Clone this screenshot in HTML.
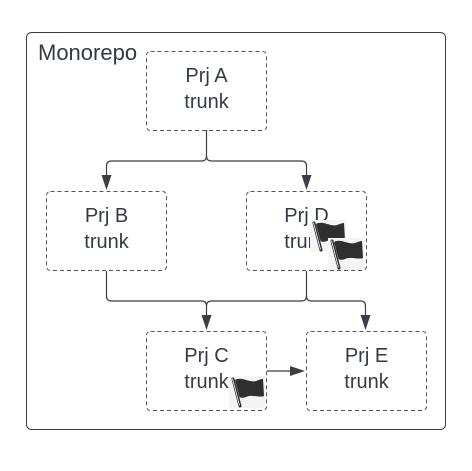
<!DOCTYPE html>
<html><head><style>
html,body{margin:0;padding:0;background:#fff;width:472px;height:471px;overflow:hidden}
</style></head><body>
<svg width="472" height="471" viewBox="0 0 472 471" xmlns="http://www.w3.org/2000/svg" font-family="Liberation Sans, sans-serif">
<defs>
<g id="flag">
<rect x="-1" y="-1" width="36" height="32" fill="#f4f4f4"/>
<path d="M3 2 L10 29" stroke="#2b2b2b" stroke-width="3" stroke-linecap="round"/>
<path d="M2.5 1.5 L9.5 28.5" stroke="#fff" stroke-width="0.8"/>
<path d="M5 3 C12 -1 19 6 26 4 C29 3 31 2 33 2 L34 19 C29 21 22 17 16 20 C13 21 11 21 9.5 20 Z" fill="#2f2f2f"/>
</g>
</defs>
<rect x="26.5" y="32.5" width="419" height="397" rx="5" fill="#fff" stroke="#3a3f47" stroke-width="1"/>
<text x="38" y="60" font-size="22" fill="#333a45">Monorepo</text>
<g fill="none" stroke="#555" stroke-width="1" stroke-dasharray="4,3">
<rect x="146.5" y="51.5" width="120" height="79" rx="4"/>
<rect x="46.5" y="191.5" width="120" height="79" rx="4"/>
<rect x="246.5" y="191.5" width="120" height="79" rx="4"/>
<rect x="146.5" y="331.5" width="120" height="79" rx="4"/>
<rect x="306.5" y="331.5" width="120" height="79" rx="4"/>
</g>
<g fill="none" stroke="#3a3f47" stroke-width="1.2">
<path d="M206.5 130 V156 Q206.5 161 201.5 161 H111.5 Q106.5 161 106.5 166 V178"/>
<path d="M206.5 156 Q206.5 161 211.5 161 H301.5 Q306.5 161 306.5 166 V178"/>
<path d="M106.5 271 V296 Q106.5 301 111.5 301 H201.5 Q206.5 301 206.5 306 V318"/>
<path d="M306.5 271 V296 Q306.5 301 301.5 301 H211.5 Q206.5 301 206.5 306"/>
<path d="M306.5 296 Q306.5 301 311.5 301 H360.5 Q365.5 301 365.5 306 V318"/>
<path d="M267 371 H292"/>
</g>
<g fill="#3a3f47">
<path d="M101.5 175 L111.5 175 L106.5 190 Z"/>
<path d="M301.5 175 L311.5 175 L306.5 190 Z"/>
<path d="M201.5 315 L211.5 315 L206.5 330 Z"/>
<path d="M360.5 315 L370.5 315 L365.5 330 Z"/>
<path d="M290 366 L290 376 L305 371 Z"/>
</g>
<g font-size="20" fill="#333a45" text-anchor="middle">
<text x="206.5" y="82">Prj A</text><text x="206.5" y="108">trunk</text>
<text x="106.5" y="222">Prj B</text><text x="106.5" y="248">trunk</text>
<text x="306.5" y="222">Prj D</text><text x="306.5" y="248">trunk</text>
<text x="206.5" y="362">Prj C</text><text x="206.5" y="388">trunk</text>
<text x="366.5" y="362">Prj E</text><text x="366.5" y="388">trunk</text>
</g>
<use href="#flag" x="311" y="221"/>
<use href="#flag" x="329" y="239"/>
<use href="#flag" x="230" y="377"/>
</svg>
</body></html>
